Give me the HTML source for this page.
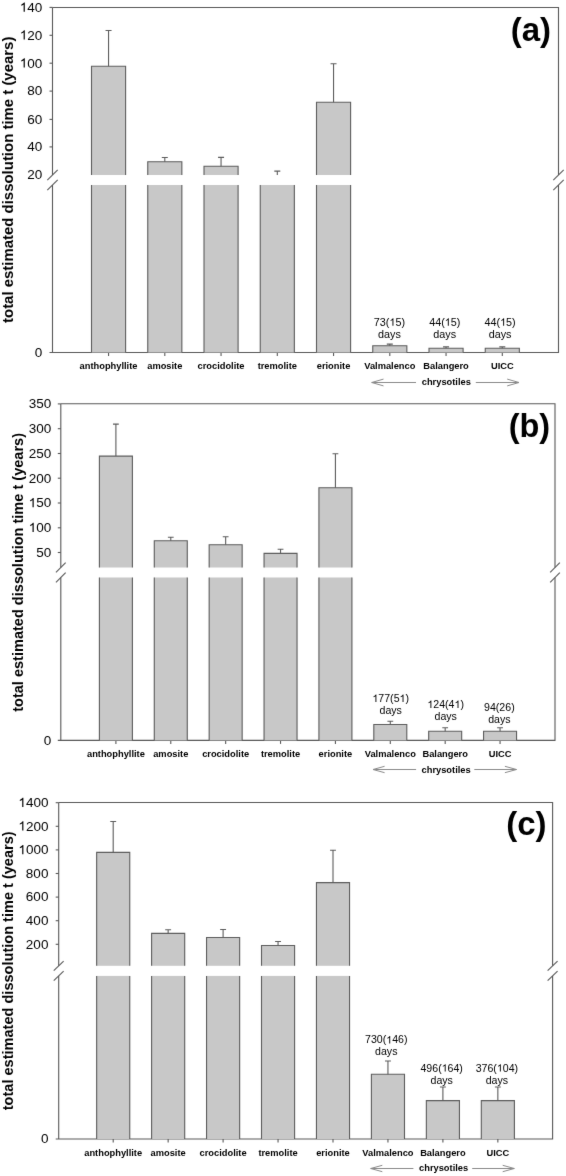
<!DOCTYPE html>
<html><head><meta charset="utf-8"><style>
html,body{margin:0;padding:0;background:#fff;}
svg{display:block;filter:grayscale(1);}
text{font-family:"Liberation Sans",sans-serif;fill:#000000;}
</style></head><body>
<svg width="566" height="1176" viewBox="0 0 566 1176">
<defs><filter id="soft" x="0" y="0" width="566" height="1176" filterUnits="userSpaceOnUse" color-interpolation-filters="sRGB"><feConvolveMatrix order="3" kernelMatrix="0.00524 0.06192 0.00524 0.06192 0.73137 0.06192 0.00524 0.06192 0.00524" divisor="1" edgeMode="duplicate"/></filter></defs>
<rect width="566" height="1176" fill="#fff"/>
<g filter="url(#soft)"><rect width="566" height="1176" fill="#fff"/>
<path d="M52.5 7.5H558.5V175M558.5 185V352.5H49.5M52.5 352.5V185M52.5 175V7.5" stroke="#585858" stroke-width="1.1" fill="none"/>
<path d="M47.3 180.1L57.7 169.9" stroke="#585858" stroke-width="1.1"/>
<path d="M47.3 190.1L57.7 179.9" stroke="#585858" stroke-width="1.1"/>
<path d="M553.3 180.1L563.7 169.9" stroke="#585858" stroke-width="1.1"/>
<path d="M553.3 190.1L563.7 179.9" stroke="#585858" stroke-width="1.1"/>
<path d="M49.5 7.4H52.5" stroke="#585858" stroke-width="1.1"/>
<text x="19.78" y="11.72" font-size="13.5"><tspan style="fill:none">1</tspan>40</text>
<path transform="translate(19.78 11.72) scale(0.00659 -0.00659)" d="M763 0L583 0L583 1110Q518 1050 412 990Q305 930 220 898L220 1070Q371 1140 484 1240Q597 1340 644 1409L763 1409Z" fill="#000000"/>
<path d="M49.5 35.3H52.5" stroke="#585858" stroke-width="1.1"/>
<text x="19.78" y="39.62" font-size="13.5"><tspan style="fill:none">1</tspan>20</text>
<path transform="translate(19.78 39.62) scale(0.00659 -0.00659)" d="M763 0L583 0L583 1110Q518 1050 412 990Q305 930 220 898L220 1070Q371 1140 484 1240Q597 1340 644 1409L763 1409Z" fill="#000000"/>
<path d="M49.5 63.2H52.5" stroke="#585858" stroke-width="1.1"/>
<text x="19.78" y="67.52" font-size="13.5"><tspan style="fill:none">1</tspan>00</text>
<path transform="translate(19.78 67.52) scale(0.00659 -0.00659)" d="M763 0L583 0L583 1110Q518 1050 412 990Q305 930 220 898L220 1070Q371 1140 484 1240Q597 1340 644 1409L763 1409Z" fill="#000000"/>
<path d="M49.5 91.1H52.5" stroke="#585858" stroke-width="1.1"/>
<text x="42.3" y="95.42" text-anchor="end" font-size="13.5">80</text>
<path d="M49.5 119.4H52.5" stroke="#585858" stroke-width="1.1"/>
<text x="42.3" y="123.72" text-anchor="end" font-size="13.5">60</text>
<path d="M49.5 146.9H52.5" stroke="#585858" stroke-width="1.1"/>
<text x="42.3" y="151.22" text-anchor="end" font-size="13.5">40</text>
<text x="42.3" y="179.12" text-anchor="end" font-size="13.5">20</text>
<text x="42.3" y="356.72" text-anchor="end" font-size="13.5">0</text>
<path d="M108.55 352.5v3.5" stroke="#585858" stroke-width="1.1"/>
<rect x="91.5" y="66.3" width="34.1" height="108.7" fill="#c8c8c8"/>
<path d="M91.5 175V66.3H125.6V175" stroke="#5c5c5c" stroke-width="1.1" fill="none"/>
<rect x="91.5" y="185" width="34.1" height="167.5" fill="#c8c8c8"/>
<path d="M91.5 185V352.5M125.6 185V352.5" stroke="#5c5c5c" stroke-width="1.1" fill="none"/>
<path d="M108.55 66.3V30.5M105.55 30.5H111.55" stroke="#5c5c5c" stroke-width="1.1" fill="none"/>
<path d="M164.8 352.5v3.5" stroke="#585858" stroke-width="1.1"/>
<rect x="147.75" y="161.7" width="34.1" height="13.3" fill="#c8c8c8"/>
<path d="M147.75 175V161.7H181.85V175" stroke="#5c5c5c" stroke-width="1.1" fill="none"/>
<rect x="147.75" y="185" width="34.1" height="167.5" fill="#c8c8c8"/>
<path d="M147.75 185V352.5M181.85 185V352.5" stroke="#5c5c5c" stroke-width="1.1" fill="none"/>
<path d="M164.8 161.7V157.5M161.8 157.5H167.8" stroke="#5c5c5c" stroke-width="1.1" fill="none"/>
<path d="M221.05 352.5v3.5" stroke="#585858" stroke-width="1.1"/>
<rect x="204" y="166.2" width="34.1" height="8.8" fill="#c8c8c8"/>
<path d="M204 175V166.2H238.1V175" stroke="#5c5c5c" stroke-width="1.1" fill="none"/>
<rect x="204" y="185" width="34.1" height="167.5" fill="#c8c8c8"/>
<path d="M204 185V352.5M238.1 185V352.5" stroke="#5c5c5c" stroke-width="1.1" fill="none"/>
<path d="M221.05 166.2V157.4M218.05 157.4H224.05" stroke="#5c5c5c" stroke-width="1.1" fill="none"/>
<path d="M277.3 352.5v3.5" stroke="#585858" stroke-width="1.1"/>
<rect x="260.25" y="185" width="34.1" height="167.5" fill="#c8c8c8"/>
<path d="M260.25 185V352.5M294.35 185V352.5" stroke="#5c5c5c" stroke-width="1.1" fill="none"/>
<path d="M277.3 175V171.1M274.3 171.1H280.3" stroke="#5c5c5c" stroke-width="1.1" fill="none"/>
<path d="M333.55 352.5v3.5" stroke="#585858" stroke-width="1.1"/>
<rect x="316.5" y="102.3" width="34.1" height="72.7" fill="#c8c8c8"/>
<path d="M316.5 175V102.3H350.6V175" stroke="#5c5c5c" stroke-width="1.1" fill="none"/>
<rect x="316.5" y="185" width="34.1" height="167.5" fill="#c8c8c8"/>
<path d="M316.5 185V352.5M350.6 185V352.5" stroke="#5c5c5c" stroke-width="1.1" fill="none"/>
<path d="M333.55 102.3V63.8M330.55 63.8H336.55" stroke="#5c5c5c" stroke-width="1.1" fill="none"/>
<path d="M389.8 352.5v3.5" stroke="#585858" stroke-width="1.1"/>
<rect x="372.75" y="345.7" width="34.1" height="6.8" fill="#c8c8c8"/>
<path d="M372.75 352.5V345.7H406.85V352.5" stroke="#5c5c5c" stroke-width="1.1" fill="none"/>
<path d="M389.8 345.7V344.1M386.8 344.1H392.8" stroke="#5c5c5c" stroke-width="1.1" fill="none"/>
<path d="M446.05 352.5v3.5" stroke="#585858" stroke-width="1.1"/>
<rect x="429" y="348.3" width="34.1" height="4.2" fill="#c8c8c8"/>
<path d="M429 352.5V348.3H463.1V352.5" stroke="#5c5c5c" stroke-width="1.1" fill="none"/>
<path d="M446.05 348.3V346.9M443.05 346.9H449.05" stroke="#5c5c5c" stroke-width="1.1" fill="none"/>
<path d="M502.3 352.5v3.5" stroke="#585858" stroke-width="1.1"/>
<rect x="485.25" y="348.3" width="34.1" height="4.2" fill="#c8c8c8"/>
<path d="M485.25 352.5V348.3H519.35V352.5" stroke="#5c5c5c" stroke-width="1.1" fill="none"/>
<path d="M502.3 348.3V346.9M499.3 346.9H505.3" stroke="#5c5c5c" stroke-width="1.1" fill="none"/>
<text x="108.55" y="368.9" text-anchor="middle" font-size="9.3" font-weight="bold">anthophyllite</text>
<text x="164.8" y="368.9" text-anchor="middle" font-size="9.3" font-weight="bold">amosite</text>
<text x="221.05" y="368.9" text-anchor="middle" font-size="9.3" font-weight="bold">crocidolite</text>
<text x="277.3" y="368.9" text-anchor="middle" font-size="9.3" font-weight="bold">tremolite</text>
<text x="333.55" y="368.9" text-anchor="middle" font-size="9.3" font-weight="bold">erionite</text>
<text x="389.8" y="368.9" text-anchor="middle" font-size="9.3" font-weight="bold">Valmalenco</text>
<text x="446.05" y="368.9" text-anchor="middle" font-size="9.3" font-weight="bold">Balangero</text>
<text x="502.3" y="368.9" text-anchor="middle" font-size="9.3" font-weight="bold">UICC</text>
<text x="373.79" y="325.8" font-size="10.8">73(<tspan style="fill:none">1</tspan>5)</text>
<path transform="translate(389.4 325.8) scale(0.00527 -0.00527)" d="M763 0L583 0L583 1110Q518 1050 412 990Q305 930 220 898L220 1070Q371 1140 484 1240Q597 1340 644 1409L763 1409Z" fill="#000000"/>
<text x="389.4" y="338.2" text-anchor="middle" font-size="10.8">days</text>
<text x="429.14" y="325.8" font-size="10.8">44(<tspan style="fill:none">1</tspan>5)</text>
<path transform="translate(444.75 325.8) scale(0.00527 -0.00527)" d="M763 0L583 0L583 1110Q518 1050 412 990Q305 930 220 898L220 1070Q371 1140 484 1240Q597 1340 644 1409L763 1409Z" fill="#000000"/>
<text x="444.75" y="338.2" text-anchor="middle" font-size="10.8">days</text>
<text x="484.49" y="325.8" font-size="10.8">44(<tspan style="fill:none">1</tspan>5)</text>
<path transform="translate(500.1 325.8) scale(0.00527 -0.00527)" d="M763 0L583 0L583 1110Q518 1050 412 990Q305 930 220 898L220 1070Q371 1140 484 1240Q597 1340 644 1409L763 1409Z" fill="#000000"/>
<text x="500.1" y="338.2" text-anchor="middle" font-size="10.8">days</text>
<path d="M371.7 382.5H416M383.5 379.1L371.7 382.5L383.5 385.9M475.8 382.5H519M507.2 379.1L519 382.5L507.2 385.9" stroke="#8a8a8a" stroke-width="1" fill="none"/>
<text x="446.3" y="385.1" text-anchor="middle" font-size="9.3" font-weight="bold">chrysotiles</text>
<text x="551" y="40.8" text-anchor="end" font-size="33" font-weight="bold" style="fill:#000">(a)</text>
<text transform="translate(13.4 179.8) rotate(-90)" text-anchor="middle" font-size="14.95" font-weight="bold" style="fill:#000">total estimated dissolution time t (years)</text>
<path d="M60.8 403.8H555V567.5M555 577.5V740.4H57.8M60.8 740.4V577.5M60.8 567.5V403.8" stroke="#585858" stroke-width="1.1" fill="none"/>
<path d="M55.95 572.4L65.65 562.6" stroke="#585858" stroke-width="1.1"/>
<path d="M55.95 582.4L65.65 572.6" stroke="#585858" stroke-width="1.1"/>
<path d="M550.15 572.4L559.85 562.6" stroke="#585858" stroke-width="1.1"/>
<path d="M550.15 582.4L559.85 572.6" stroke="#585858" stroke-width="1.1"/>
<path d="M57.8 403.9H60.8" stroke="#585858" stroke-width="1.1"/>
<text x="51.2" y="408.22" text-anchor="end" font-size="13.5">350</text>
<path d="M57.8 428.7H60.8" stroke="#585858" stroke-width="1.1"/>
<text x="51.2" y="433.02" text-anchor="end" font-size="13.5">300</text>
<path d="M57.8 453.5H60.8" stroke="#585858" stroke-width="1.1"/>
<text x="51.2" y="457.82" text-anchor="end" font-size="13.5">250</text>
<path d="M57.8 478.2H60.8" stroke="#585858" stroke-width="1.1"/>
<text x="51.2" y="482.52" text-anchor="end" font-size="13.5">200</text>
<path d="M57.8 503H60.8" stroke="#585858" stroke-width="1.1"/>
<text x="28.68" y="507.32" font-size="13.5"><tspan style="fill:none">1</tspan>50</text>
<path transform="translate(28.68 507.32) scale(0.00659 -0.00659)" d="M763 0L583 0L583 1110Q518 1050 412 990Q305 930 220 898L220 1070Q371 1140 484 1240Q597 1340 644 1409L763 1409Z" fill="#000000"/>
<path d="M57.8 527.8H60.8" stroke="#585858" stroke-width="1.1"/>
<text x="28.68" y="532.12" font-size="13.5"><tspan style="fill:none">1</tspan>00</text>
<path transform="translate(28.68 532.12) scale(0.00659 -0.00659)" d="M763 0L583 0L583 1110Q518 1050 412 990Q305 930 220 898L220 1070Q371 1140 484 1240Q597 1340 644 1409L763 1409Z" fill="#000000"/>
<path d="M57.8 552.5H60.8" stroke="#585858" stroke-width="1.1"/>
<text x="51.2" y="556.82" text-anchor="end" font-size="13.5">50</text>
<text x="51.2" y="744.72" text-anchor="end" font-size="13.5">0</text>
<path d="M115.9 740.4v3.5" stroke="#585858" stroke-width="1.1"/>
<rect x="99.4" y="456.1" width="33" height="111.4" fill="#c8c8c8"/>
<path d="M99.4 567.5V456.1H132.4V567.5" stroke="#5c5c5c" stroke-width="1.1" fill="none"/>
<rect x="99.4" y="577.5" width="33" height="162.9" fill="#c8c8c8"/>
<path d="M99.4 577.5V740.4M132.4 577.5V740.4" stroke="#5c5c5c" stroke-width="1.1" fill="none"/>
<path d="M115.9 456.1V424.1M113 424.1H118.8" stroke="#5c5c5c" stroke-width="1.1" fill="none"/>
<path d="M170.78 740.4v3.5" stroke="#585858" stroke-width="1.1"/>
<rect x="154.28" y="540.8" width="33" height="26.7" fill="#c8c8c8"/>
<path d="M154.28 567.5V540.8H187.28V567.5" stroke="#5c5c5c" stroke-width="1.1" fill="none"/>
<rect x="154.28" y="577.5" width="33" height="162.9" fill="#c8c8c8"/>
<path d="M154.28 577.5V740.4M187.28 577.5V740.4" stroke="#5c5c5c" stroke-width="1.1" fill="none"/>
<path d="M170.78 540.8V537.3M167.88 537.3H173.68" stroke="#5c5c5c" stroke-width="1.1" fill="none"/>
<path d="M225.66 740.4v3.5" stroke="#585858" stroke-width="1.1"/>
<rect x="209.16" y="544.7" width="33" height="22.8" fill="#c8c8c8"/>
<path d="M209.16 567.5V544.7H242.16V567.5" stroke="#5c5c5c" stroke-width="1.1" fill="none"/>
<rect x="209.16" y="577.5" width="33" height="162.9" fill="#c8c8c8"/>
<path d="M209.16 577.5V740.4M242.16 577.5V740.4" stroke="#5c5c5c" stroke-width="1.1" fill="none"/>
<path d="M225.66 544.7V536.8M222.76 536.8H228.56" stroke="#5c5c5c" stroke-width="1.1" fill="none"/>
<path d="M280.54 740.4v3.5" stroke="#585858" stroke-width="1.1"/>
<rect x="264.04" y="553.4" width="33" height="14.1" fill="#c8c8c8"/>
<path d="M264.04 567.5V553.4H297.04V567.5" stroke="#5c5c5c" stroke-width="1.1" fill="none"/>
<rect x="264.04" y="577.5" width="33" height="162.9" fill="#c8c8c8"/>
<path d="M264.04 577.5V740.4M297.04 577.5V740.4" stroke="#5c5c5c" stroke-width="1.1" fill="none"/>
<path d="M280.54 553.4V549.2M277.64 549.2H283.44" stroke="#5c5c5c" stroke-width="1.1" fill="none"/>
<path d="M335.42 740.4v3.5" stroke="#585858" stroke-width="1.1"/>
<rect x="318.92" y="487.7" width="33" height="79.8" fill="#c8c8c8"/>
<path d="M318.92 567.5V487.7H351.92V567.5" stroke="#5c5c5c" stroke-width="1.1" fill="none"/>
<rect x="318.92" y="577.5" width="33" height="162.9" fill="#c8c8c8"/>
<path d="M318.92 577.5V740.4M351.92 577.5V740.4" stroke="#5c5c5c" stroke-width="1.1" fill="none"/>
<path d="M335.42 487.7V453.8M332.52 453.8H338.32" stroke="#5c5c5c" stroke-width="1.1" fill="none"/>
<path d="M390.3 740.4v3.5" stroke="#585858" stroke-width="1.1"/>
<rect x="373.8" y="724.5" width="33" height="15.9" fill="#c8c8c8"/>
<path d="M373.8 740.4V724.5H406.8V740.4" stroke="#5c5c5c" stroke-width="1.1" fill="none"/>
<path d="M390.3 724.5V721.3M387.4 721.3H393.2" stroke="#5c5c5c" stroke-width="1.1" fill="none"/>
<path d="M445.18 740.4v3.5" stroke="#585858" stroke-width="1.1"/>
<rect x="428.68" y="731.3" width="33" height="9.1" fill="#c8c8c8"/>
<path d="M428.68 740.4V731.3H461.68V740.4" stroke="#5c5c5c" stroke-width="1.1" fill="none"/>
<path d="M445.18 731.3V727.7M442.28 727.7H448.08" stroke="#5c5c5c" stroke-width="1.1" fill="none"/>
<path d="M500.06 740.4v3.5" stroke="#585858" stroke-width="1.1"/>
<rect x="483.56" y="731.3" width="33" height="9.1" fill="#c8c8c8"/>
<path d="M483.56 740.4V731.3H516.56V740.4" stroke="#5c5c5c" stroke-width="1.1" fill="none"/>
<path d="M500.06 731.3V727.7M497.16 727.7H502.96" stroke="#5c5c5c" stroke-width="1.1" fill="none"/>
<text x="115.9" y="756.6" text-anchor="middle" font-size="9.3" font-weight="bold">anthophyllite</text>
<text x="170.78" y="756.6" text-anchor="middle" font-size="9.3" font-weight="bold">amosite</text>
<text x="225.66" y="756.6" text-anchor="middle" font-size="9.3" font-weight="bold">crocidolite</text>
<text x="280.54" y="756.6" text-anchor="middle" font-size="9.3" font-weight="bold">tremolite</text>
<text x="335.42" y="756.6" text-anchor="middle" font-size="9.3" font-weight="bold">erionite</text>
<text x="390.3" y="756.6" text-anchor="middle" font-size="9.3" font-weight="bold">Valmalenco</text>
<text x="445.18" y="756.6" text-anchor="middle" font-size="9.3" font-weight="bold">Balangero</text>
<text x="500.06" y="756.6" text-anchor="middle" font-size="9.3" font-weight="bold">UICC</text>
<text x="372.43" y="701.9" font-size="10.6"><tspan style="fill:none">1</tspan>77(5<tspan style="fill:none">1</tspan>)</text>
<path transform="translate(372.43 701.9) scale(0.00518 -0.00518)" d="M763 0L583 0L583 1110Q518 1050 412 990Q305 930 220 898L220 1070Q371 1140 484 1240Q597 1340 644 1409L763 1409Z" fill="#000000"/>
<path transform="translate(399.54 701.9) scale(0.00518 -0.00518)" d="M763 0L583 0L583 1110Q518 1050 412 990Q305 930 220 898L220 1070Q371 1140 484 1240Q597 1340 644 1409L763 1409Z" fill="#000000"/>
<text x="390.7" y="713.5" text-anchor="middle" font-size="10.6">days</text>
<text x="427.41" y="707.9" font-size="10.6"><tspan style="fill:none">1</tspan>24(4<tspan style="fill:none">1</tspan>)</text>
<path transform="translate(427.41 707.9) scale(0.00518 -0.00518)" d="M763 0L583 0L583 1110Q518 1050 412 990Q305 930 220 898L220 1070Q371 1140 484 1240Q597 1340 644 1409L763 1409Z" fill="#000000"/>
<path transform="translate(454.52 707.9) scale(0.00518 -0.00518)" d="M763 0L583 0L583 1110Q518 1050 412 990Q305 930 220 898L220 1070Q371 1140 484 1240Q597 1340 644 1409L763 1409Z" fill="#000000"/>
<text x="445.68" y="719.6" text-anchor="middle" font-size="10.6">days</text>
<text x="499.36" y="710.9" text-anchor="middle" font-size="10.6">94(26)</text>
<text x="499.36" y="722.8" text-anchor="middle" font-size="10.6">days</text>
<path d="M373 769.5H416.1M384.6 766.3L373 769.5L384.6 772.7M474.3 769.5H516.5M504.9 766.3L516.5 769.5L504.9 772.7" stroke="#8a8a8a" stroke-width="1" fill="none"/>
<text x="446.1" y="772.5" text-anchor="middle" font-size="9.3" font-weight="bold">chrysotiles</text>
<text x="550.2" y="437.3" text-anchor="end" font-size="32.5" font-weight="bold" style="fill:#000">(b)</text>
<text transform="translate(23.2 572.4) rotate(-90)" text-anchor="middle" font-size="14.55" font-weight="bold" style="fill:#000">total estimated dissolution time t (years)</text>
<path d="M58.7 802.5H552.6V965.8M552.6 975.9V1139H55.7M58.7 1139V975.9M58.7 965.8V802.5" stroke="#585858" stroke-width="1.1" fill="none"/>
<path d="M53.75 970.55L63.65 961.05" stroke="#585858" stroke-width="1.1"/>
<path d="M53.75 980.65L63.65 971.15" stroke="#585858" stroke-width="1.1"/>
<path d="M547.65 970.55L557.55 961.05" stroke="#585858" stroke-width="1.1"/>
<path d="M547.65 980.65L557.55 971.15" stroke="#585858" stroke-width="1.1"/>
<path d="M55.7 802.7H58.7" stroke="#585858" stroke-width="1.1"/>
<text x="18.37" y="807.02" font-size="13.5"><tspan style="fill:none">1</tspan>400</text>
<path transform="translate(18.37 807.02) scale(0.00659 -0.00659)" d="M763 0L583 0L583 1110Q518 1050 412 990Q305 930 220 898L220 1070Q371 1140 484 1240Q597 1340 644 1409L763 1409Z" fill="#000000"/>
<path d="M55.7 826.3H58.7" stroke="#585858" stroke-width="1.1"/>
<text x="18.37" y="830.62" font-size="13.5"><tspan style="fill:none">1</tspan>200</text>
<path transform="translate(18.37 830.62) scale(0.00659 -0.00659)" d="M763 0L583 0L583 1110Q518 1050 412 990Q305 930 220 898L220 1070Q371 1140 484 1240Q597 1340 644 1409L763 1409Z" fill="#000000"/>
<path d="M55.7 849.9H58.7" stroke="#585858" stroke-width="1.1"/>
<text x="18.37" y="854.22" font-size="13.5"><tspan style="fill:none">1</tspan>000</text>
<path transform="translate(18.37 854.22) scale(0.00659 -0.00659)" d="M763 0L583 0L583 1110Q518 1050 412 990Q305 930 220 898L220 1070Q371 1140 484 1240Q597 1340 644 1409L763 1409Z" fill="#000000"/>
<path d="M55.7 873.5H58.7" stroke="#585858" stroke-width="1.1"/>
<text x="48.4" y="877.82" text-anchor="end" font-size="13.5">800</text>
<path d="M55.7 897.1H58.7" stroke="#585858" stroke-width="1.1"/>
<text x="48.4" y="901.42" text-anchor="end" font-size="13.5">600</text>
<path d="M55.7 920.7H58.7" stroke="#585858" stroke-width="1.1"/>
<text x="48.4" y="925.02" text-anchor="end" font-size="13.5">400</text>
<path d="M55.7 944.3H58.7" stroke="#585858" stroke-width="1.1"/>
<text x="48.4" y="948.62" text-anchor="end" font-size="13.5">200</text>
<text x="48.4" y="1143.32" text-anchor="end" font-size="13.5">0</text>
<path d="M113.2 1139v3.5" stroke="#585858" stroke-width="1.1"/>
<rect x="96.65" y="852.4" width="33.1" height="113.4" fill="#c8c8c8"/>
<path d="M96.65 965.8V852.4H129.75V965.8" stroke="#5c5c5c" stroke-width="1.1" fill="none"/>
<rect x="96.65" y="975.9" width="33.1" height="163.1" fill="#c8c8c8"/>
<path d="M96.65 975.9V1139M129.75 975.9V1139" stroke="#5c5c5c" stroke-width="1.1" fill="none"/>
<path d="M113.2 852.4V821.5M110.25 821.5H116.15" stroke="#5c5c5c" stroke-width="1.1" fill="none"/>
<path d="M168.15 1139v3.5" stroke="#585858" stroke-width="1.1"/>
<rect x="151.6" y="933.4" width="33.1" height="32.4" fill="#c8c8c8"/>
<path d="M151.6 965.8V933.4H184.7V965.8" stroke="#5c5c5c" stroke-width="1.1" fill="none"/>
<rect x="151.6" y="975.9" width="33.1" height="163.1" fill="#c8c8c8"/>
<path d="M151.6 975.9V1139M184.7 975.9V1139" stroke="#5c5c5c" stroke-width="1.1" fill="none"/>
<path d="M168.15 933.4V929.7M165.2 929.7H171.1" stroke="#5c5c5c" stroke-width="1.1" fill="none"/>
<path d="M223.1 1139v3.5" stroke="#585858" stroke-width="1.1"/>
<rect x="206.55" y="937.5" width="33.1" height="28.3" fill="#c8c8c8"/>
<path d="M206.55 965.8V937.5H239.65V965.8" stroke="#5c5c5c" stroke-width="1.1" fill="none"/>
<rect x="206.55" y="975.9" width="33.1" height="163.1" fill="#c8c8c8"/>
<path d="M206.55 975.9V1139M239.65 975.9V1139" stroke="#5c5c5c" stroke-width="1.1" fill="none"/>
<path d="M223.1 937.5V929.5M220.15 929.5H226.05" stroke="#5c5c5c" stroke-width="1.1" fill="none"/>
<path d="M278.05 1139v3.5" stroke="#585858" stroke-width="1.1"/>
<rect x="261.5" y="945.5" width="33.1" height="20.3" fill="#c8c8c8"/>
<path d="M261.5 965.8V945.5H294.6V965.8" stroke="#5c5c5c" stroke-width="1.1" fill="none"/>
<rect x="261.5" y="975.9" width="33.1" height="163.1" fill="#c8c8c8"/>
<path d="M261.5 975.9V1139M294.6 975.9V1139" stroke="#5c5c5c" stroke-width="1.1" fill="none"/>
<path d="M278.05 945.5V941.5M275.1 941.5H281" stroke="#5c5c5c" stroke-width="1.1" fill="none"/>
<path d="M333 1139v3.5" stroke="#585858" stroke-width="1.1"/>
<rect x="316.45" y="882.6" width="33.1" height="83.2" fill="#c8c8c8"/>
<path d="M316.45 965.8V882.6H349.55V965.8" stroke="#5c5c5c" stroke-width="1.1" fill="none"/>
<rect x="316.45" y="975.9" width="33.1" height="163.1" fill="#c8c8c8"/>
<path d="M316.45 975.9V1139M349.55 975.9V1139" stroke="#5c5c5c" stroke-width="1.1" fill="none"/>
<path d="M333 882.6V850.3M330.05 850.3H335.95" stroke="#5c5c5c" stroke-width="1.1" fill="none"/>
<path d="M387.95 1139v3.5" stroke="#585858" stroke-width="1.1"/>
<rect x="371.4" y="1074.3" width="33.1" height="64.7" fill="#c8c8c8"/>
<path d="M371.4 1139V1074.3H404.5V1139" stroke="#5c5c5c" stroke-width="1.1" fill="none"/>
<path d="M387.95 1074.3V1061M385 1061H390.9" stroke="#5c5c5c" stroke-width="1.1" fill="none"/>
<path d="M442.9 1139v3.5" stroke="#585858" stroke-width="1.1"/>
<rect x="426.35" y="1100.6" width="33.1" height="38.4" fill="#c8c8c8"/>
<path d="M426.35 1139V1100.6H459.45V1139" stroke="#5c5c5c" stroke-width="1.1" fill="none"/>
<path d="M442.9 1100.6V1087M439.95 1087H445.85" stroke="#5c5c5c" stroke-width="1.1" fill="none"/>
<path d="M497.85 1139v3.5" stroke="#585858" stroke-width="1.1"/>
<rect x="481.3" y="1100.6" width="33.1" height="38.4" fill="#c8c8c8"/>
<path d="M481.3 1139V1100.6H514.4V1139" stroke="#5c5c5c" stroke-width="1.1" fill="none"/>
<path d="M497.85 1100.6V1087M494.9 1087H500.8" stroke="#5c5c5c" stroke-width="1.1" fill="none"/>
<text x="113.2" y="1155.5" text-anchor="middle" font-size="9.3" font-weight="bold">anthophyllite</text>
<text x="168.15" y="1155.5" text-anchor="middle" font-size="9.3" font-weight="bold">amosite</text>
<text x="223.1" y="1155.5" text-anchor="middle" font-size="9.3" font-weight="bold">crocidolite</text>
<text x="278.05" y="1155.5" text-anchor="middle" font-size="9.3" font-weight="bold">tremolite</text>
<text x="333" y="1155.5" text-anchor="middle" font-size="9.3" font-weight="bold">erionite</text>
<text x="387.95" y="1155.5" text-anchor="middle" font-size="9.3" font-weight="bold">Valmalenco</text>
<text x="442.9" y="1155.5" text-anchor="middle" font-size="9.3" font-weight="bold">Balangero</text>
<text x="497.85" y="1155.5" text-anchor="middle" font-size="9.3" font-weight="bold">UICC</text>
<text x="365.03" y="1043.4" font-size="10.6">730(<tspan style="fill:none">1</tspan>46)</text>
<path transform="translate(386.25 1043.4) scale(0.00518 -0.00518)" d="M763 0L583 0L583 1110Q518 1050 412 990Q305 930 220 898L220 1070Q371 1140 484 1240Q597 1340 644 1409L763 1409Z" fill="#000000"/>
<text x="386.25" y="1055.4" text-anchor="middle" font-size="10.6">days</text>
<text x="420.48" y="1071.5" font-size="10.6">496(<tspan style="fill:none">1</tspan>64)</text>
<path transform="translate(441.7 1071.5) scale(0.00518 -0.00518)" d="M763 0L583 0L583 1110Q518 1050 412 990Q305 930 220 898L220 1070Q371 1140 484 1240Q597 1340 644 1409L763 1409Z" fill="#000000"/>
<text x="441.7" y="1083.5" text-anchor="middle" font-size="10.6">days</text>
<text x="475.63" y="1071.5" font-size="10.6">376(<tspan style="fill:none">1</tspan>04)</text>
<path transform="translate(496.85 1071.5) scale(0.00518 -0.00518)" d="M763 0L583 0L583 1110Q518 1050 412 990Q305 930 220 898L220 1070Q371 1140 484 1240Q597 1340 644 1409L763 1409Z" fill="#000000"/>
<text x="496.85" y="1083.5" text-anchor="middle" font-size="10.6">days</text>
<path d="M370.7 1168.5H413.4M382.3 1165.3L370.7 1168.5L382.3 1171.7M472.2 1168.5H514.3M502.7 1165.3L514.3 1168.5L502.7 1171.7" stroke="#8a8a8a" stroke-width="1" fill="none"/>
<text x="443.6" y="1171.4" text-anchor="middle" font-size="9.3" font-weight="bold">chrysotiles</text>
<text x="546.5" y="835" text-anchor="end" font-size="33" font-weight="bold" style="fill:#000">(c)</text>
<text transform="translate(13.2 970.8) rotate(-90)" text-anchor="middle" font-size="14.55" font-weight="bold" style="fill:#000">total estimated dissolution time t (years)</text>
</g>
</svg>
</body></html>
